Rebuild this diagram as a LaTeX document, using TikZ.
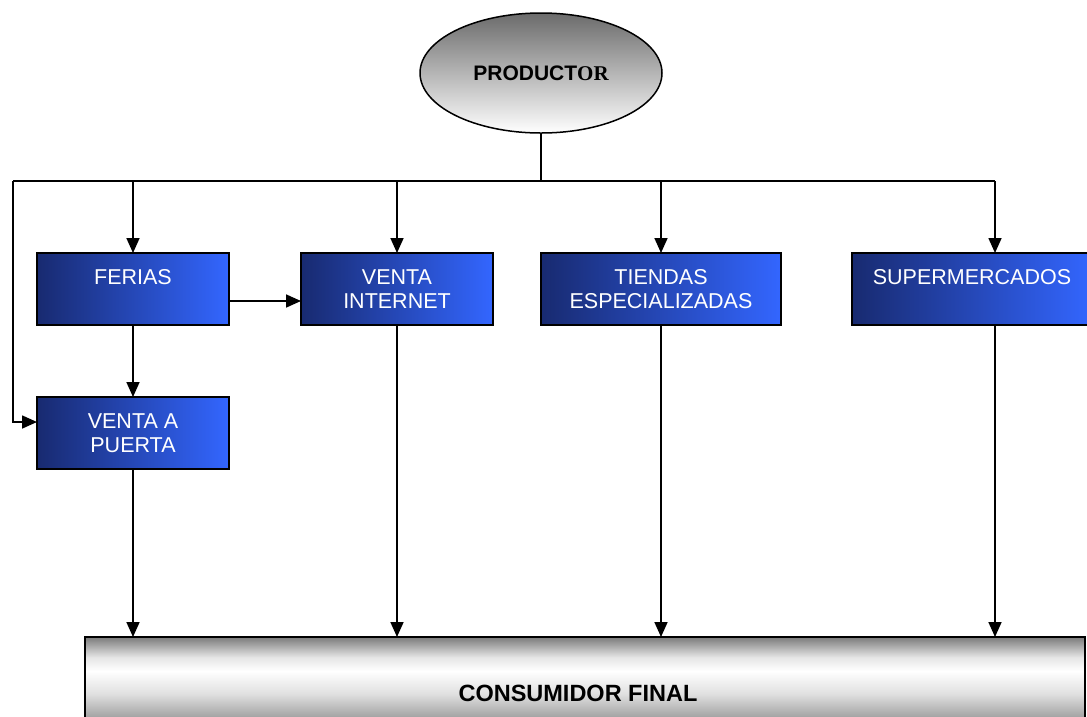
\documentclass[tikz,border=0pt]{standalone}
\usepackage{fontspec}
\setmainfont{Liberation Sans}
\newfontfamily\serifbold{Liberation Serif}
\usetikzlibrary{shapes.geometric, arrows.meta}
\definecolor{boxleft}{RGB}{24,42,112}
\definecolor{boxright}{RGB}{51,102,255}
\pgfdeclareverticalshading{consshade}{100bp}{color(0bp)=(black!50); color(25bp)=(black!50); color(40bp)=(black!35); color(50bp)=(black!12); color(60bp)=(white); color(66bp)=(black!10); color(75bp)=(black!52); color(100bp)=(black!52)}

\begin{document}
\begin{tikzpicture}[x=1pt, y=-1pt, every node/.style={inner sep=0, outer sep=0}, canal/.style={draw, line width=1.8pt, left color=boxleft, right color=boxright, text=white, anchor=north west, align=center, text height=31pt, text depth=41pt, font=\fontsize{21.5}{24.3}\selectfont}, canaldos/.style={canal, text height=55.3pt, text depth=16.7pt}, flecha/.style={line width=1.7pt, -{Triangle[length=15pt, width=13pt]}}, linea/.style={line width=1.7pt}]
    \useasboundingbox (0,0) rectangle (1087,716);
    % productor y consumidor
    \node [draw, ellipse, line width=1.5pt, top color=black!58, bottom color=white, minimum width=242pt, minimum height=120pt, font=\bfseries\fontsize{21}{24}\selectfont] (prod) at (541,73) {PRODUCT{\serifbold OR}};
    \node [draw, line width=1.8pt, shading=consshade, anchor=north west, minimum width=1000pt, minimum height=113pt, font=\bfseries\fontsize{23.5}{26}\selectfont] (cons) at (85,637) {CONSUMIDOR FINAL\hspace*{14pt}};
    % canales
    \node [canal, minimum width=192pt] (feria) at (37,253) {FERIAS};
    \node [canaldos, minimum width=192pt] (vint) at (301,253) {VENTA\\INTERNET};
    \node [canaldos, minimum width=240pt] (tiend) at (541,253) {TIENDAS\\ESPECIALIZADAS};
    \node [canal, minimum width=240pt] (super) at (852,253) {SUPERMERCADOS};
    \node [canaldos, minimum width=192pt] (vpuerta) at (37,397) {VENTA A\\PUERTA};
    \coordinate (busL) at (13,181);
    \coordinate (busR) at (995,181);
    % conexiones
    \draw [linea] (prod.south) -- (prod.south |- busL);
    \draw [linea] (busL) -- (busR);
    \foreach \x in {feria,vint,tiend} {\draw [flecha] (\x.north |- busL) -- (\x.north);}
    \draw [flecha] (busR) -- (busR |- super.north);
    \draw [flecha] (busL) |- ([yshift=11pt]vpuerta.west);
    \draw [flecha] ([yshift=-12pt]feria.east) -- ([yshift=-12pt]vint.west);
    \draw [flecha] (feria.south) -- (vpuerta.north);
    \foreach \x in {vpuerta,vint,tiend} {\draw [flecha] (\x.south) -- (\x.south |- cons.north);}
    \draw [flecha] (busR |- super.south) -- (busR |- cons.north);
\end{tikzpicture}
\end{document}
